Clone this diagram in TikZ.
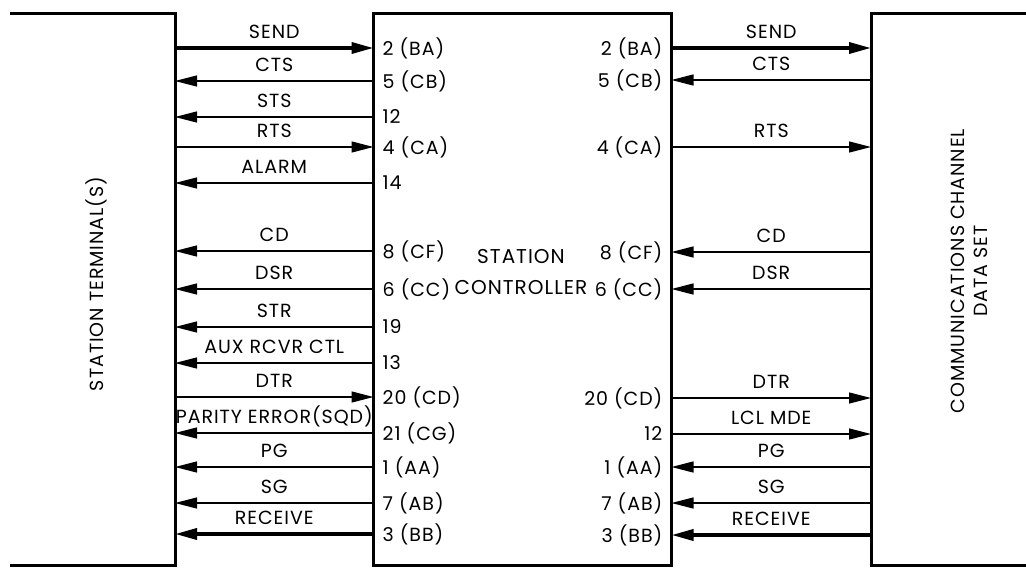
\documentclass[tikz,border=0pt]{standalone}
\usepackage{fontspec}
\setmainfont{Poppins}[LetterSpace=5]
\usetikzlibrary{arrows.meta, positioning}
\newcommand\labfont{\fontsize{19}{22}\selectfont}
\tikzset{
  edge/.style={line width=3pt, line join=miter},
  wire/.style={line width=1.3pt, -{Triangle[length=22pt, width=11pt]}},
  bus/.style={wire, line width=3.5pt},
  siglab/.style={anchor=base, yshift=10pt, inner sep=0pt},
  pinl/.style={anchor=west, inner xsep=9pt, inner ysep=0pt},
  pinr/.style={anchor=east, inner xsep=9pt, inner ysep=0pt}
}

\begin{document}
\begin{tikzpicture}[x=1pt, y=-1pt, font=\labfont]
  \useasboundingbox (0,0) rectangle (1026,568);
  % blocks
  \draw[edge] (10,13) -| (175,565) -- (10,565);
  \draw[edge] (1026,13) -| (871,565) -- (1026,565);
  \node[draw, edge, minimum width=298pt, minimum height=552pt, inner sep=0pt] (ctrl) at (522.5,289) {};
  \coordinate (term) at (175,289);
  \coordinate (dset) at (871,289);
  \node[rotate=90] (termlab) at (96,284) {STATION TERMINAL(S)};
  \node[rotate=90, align=center, font=\fontsize{19}{23}\selectfont] (dsetlab) at (969,271) {COMMUNICATIONS CHANNEL\\DATA SET};
  \node[align=center, font=\fontsize{20}{31}\selectfont] (ctrllab) at (521,272) {STATION\\CONTROLLER};
  % terminal side
  \foreach \y/\sname/\pnum/\way/\kind [count=\i] in {
      48/SEND/2 (BA)/1/bus, 81/CTS/5 (CB)/0/wire, 117/STS/12/0/wire,
      147/RTS/4 (CA)/1/wire, 183/ALARM/14/0/wire, 251/CD/8 (CF)/0/wire,
      289/DSR/6 (CC)/0/wire, 327/STR/19/0/wire, 363/AUX RCVR CTL/13/0/wire,
      397/DTR/20 (CD)/1/wire, 433/PARITY ERROR(SQD)/21 (CG)/0/wire,
      467/PG/1 (AA)/0/wire, 503/SG/7 (AB)/0/wire, 534/RECEIVE/3 (BB)/0/bus}{
    \node[pinl] (lp\i) at (373.5,\y) {\pnum};
    \coordinate (lt\i) at (term |- lp\i.west);
    \ifnum\way=1 \draw[\kind] (lt\i) -- node[siglab]{\sname} (lp\i.west);
    \else \draw[\kind] (lp\i.west) -- node[siglab]{\sname} (lt\i); \fi
  }
  % data set side
  \foreach \y/\sname/\pnum/\way/\kind [count=\i] in {
      48/SEND/2 (BA)/1/bus, 80/CTS/5 (CB)/0/wire, 147/RTS/4 (CA)/1/wire,
      252/CD/8 (CF)/0/wire, 289/DSR/6 (CC)/0/wire, 398/DTR/20 (CD)/1/wire,
      434/LCL MDE/12/1/wire, 467/PG/1 (AA)/0/wire, 503/SG/7 (AB)/0/wire,
      535/RECEIVE/3 (BB)/0/bus}{
    \node[pinr] (rp\i) at (671.5,\y) {\pnum};
    \coordinate (rt\i) at (dset |- rp\i.east);
    \ifnum\way=1 \draw[\kind] (rp\i.east) -- node[siglab]{\sname} (rt\i);
    \else \draw[\kind] (rt\i) -- node[siglab]{\sname} (rp\i.east); \fi
  }
\end{tikzpicture}
\end{document}
